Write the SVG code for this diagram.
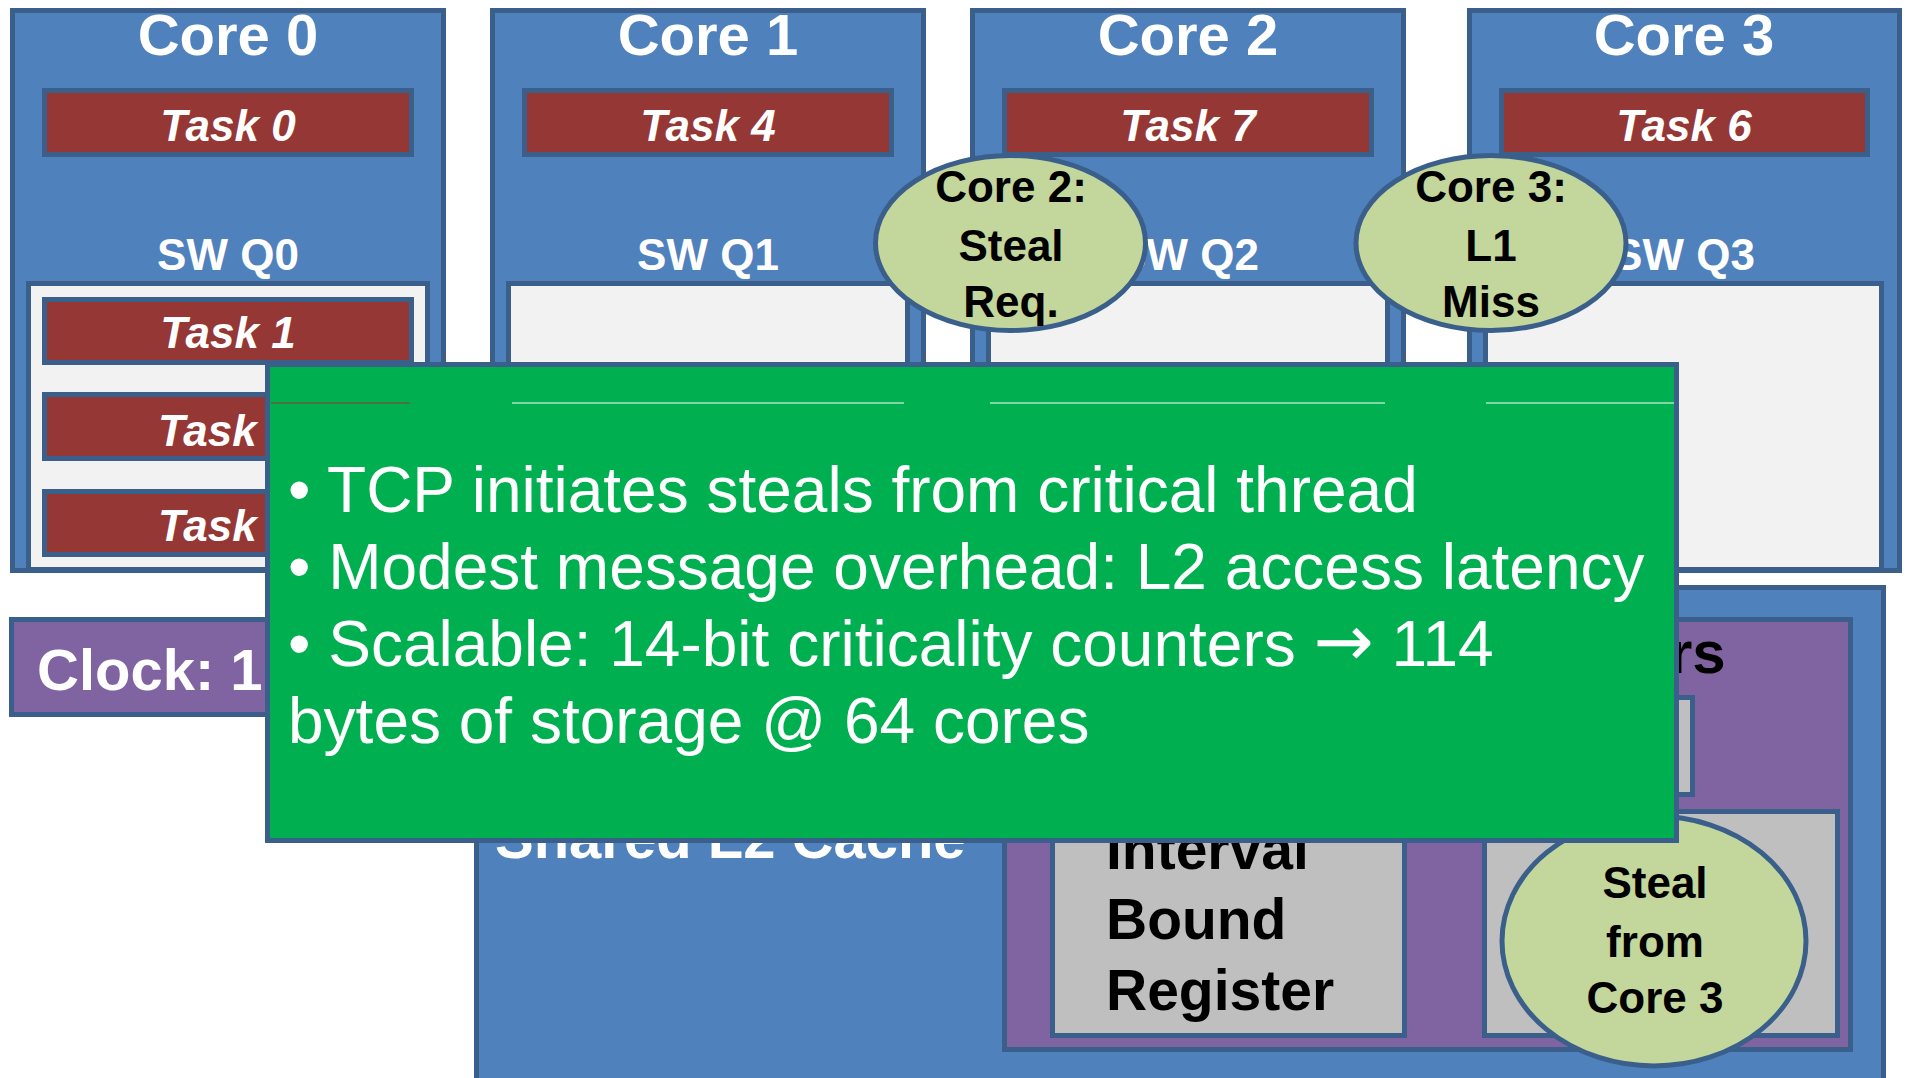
<svg xmlns="http://www.w3.org/2000/svg" width="1907" height="1078" viewBox="0 0 1907 1078">
  <style>
    .bd { stroke: #3A5F8B; stroke-width: 5; }
    .blue { fill: #4F81BD; }
    .task { fill: #953735; }
    .queue { fill: #F2F2F2; }
    .purple { fill: #8064A2; }
    .gray { fill: #BFBFBF; }
    .bubble { fill: #C3D69B; }
    .green { fill: #00B050; }
    text { font-family: "Liberation Sans", Arial, sans-serif; }
    .title { font-size: 58px; font-weight: bold; fill: #FFFFFF; text-anchor: middle; }
    .tk { font-size: 44px; font-weight: bold; font-style: italic; fill: #FFFFFF; text-anchor: middle; }
    .tks { font-size: 44px; font-weight: bold; font-style: italic; fill: #FFFFFF; }
    .swq { font-size: 44px; font-weight: bold; fill: #FFFFFF; text-anchor: middle; }
    .bub { font-size: 44px; font-weight: bold; fill: #000000; text-anchor: middle; }
    .blk { font-size: 57px; font-weight: bold; fill: #000000; }
    .big { font-size: 58px; font-weight: bold; fill: #FFFFFF; }
    .note { font-size: 64px; fill: #FFFFFF; }
    .arrow { font-family: "DejaVu Sans", sans-serif; font-size: 72px; }
    .artifact { stroke: #FFFFFF; stroke-width: 1; }
  </style>
  <rect x="0" y="0" width="1907" height="1078" fill="#FFFFFF"/>

  <g id="core0">
    <rect class="bd blue" x="12.5" y="10.5" width="431" height="560"/>
    <text class="title" x="228" y="55">Core 0</text>
    <rect class="bd task" x="44.5" y="90.5" width="367" height="64"/>
    <text class="tk" x="228" y="141">Task 0</text>
    <text class="swq" x="228" y="270">SW Q0</text>
    <rect class="bd queue" x="28.5" y="283.5" width="399" height="286"/>
    <rect class="bd task" x="44.5" y="299.5" width="367" height="63"/>
    <text class="tk" x="228" y="348">Task 1</text>
    <rect class="bd task" x="44.5" y="394.5" width="367" height="64"/>
    <text class="tks" x="158" y="446">Task</text>
    <rect class="bd task" x="44.5" y="491.5" width="367" height="63"/>
    <text class="tks" x="158" y="541">Task</text>
  </g>

  <g id="core1">
    <rect class="bd blue" x="492.5" y="10.5" width="431" height="560"/>
    <text class="title" x="708" y="55">Core 1</text>
    <rect class="bd task" x="524.5" y="90.5" width="367" height="64"/>
    <text class="tk" x="708" y="141">Task 4</text>
    <text class="swq" x="708" y="270">SW Q1</text>
    <rect class="bd queue" x="508.5" y="283.5" width="399" height="286"/>
  </g>

  <g id="core2">
    <rect class="bd blue" x="972.5" y="10.5" width="431" height="560"/>
    <text class="title" x="1188" y="55">Core 2</text>
    <rect class="bd task" x="1004.5" y="90.5" width="367" height="64"/>
    <text class="tk" x="1188" y="141">Task 7</text>
    <text class="swq" x="1188" y="270">SW Q2</text>
    <rect class="bd queue" x="988.5" y="283.5" width="399" height="286"/>
  </g>

  <g id="core3">
    <rect class="bd blue" x="1469.5" y="10.5" width="430" height="560"/>
    <text class="title" x="1684" y="55">Core 3</text>
    <rect class="bd task" x="1501.5" y="90.5" width="366" height="64"/>
    <text class="tk" x="1684" y="141">Task 6</text>
    <text class="swq" x="1684" y="270">SW Q3</text>
    <rect class="bd queue" x="1485.5" y="283.5" width="396" height="286"/>
  </g>

  <g id="clock">
    <rect class="bd purple" x="11.5" y="619.5" width="300" height="95"/>
    <text class="big" x="37" y="690">Clock: 1</text>
  </g>

  <g id="l2cache">
    <rect class="bd blue" x="476.5" y="587.5" width="1407" height="520"/>
    <text class="big" x="495" y="858">Shared L2 Cache</text>
  </g>

  <g id="tcp">
    <rect class="bd purple" x="1004.5" y="619.5" width="846" height="430"/>
    <text class="blk" x="1669" y="673" style="font-size:60px">rs</text>
    <rect class="bd gray" x="1052.5" y="697.5" width="640" height="97"/>
  </g>

  <g id="interval-bound-register">
    <rect class="bd gray" x="1052.5" y="811.5" width="352" height="224"/>
    <text class="blk" x="1106" y="869">Interval</text>
    <text class="blk" x="1106" y="939">Bound</text>
    <text class="blk" x="1106" y="1010">Register</text>
  </g>

  <g id="steal-slot">
    <rect class="bd gray" x="1484.5" y="811.5" width="353" height="224"/>
  </g>

  <g id="steal-from-core3">
    <ellipse class="bd bubble" cx="1654" cy="941" rx="152" ry="125"/>
    <text class="bub" x="1655" y="898">Steal</text>
    <text class="bub" x="1655" y="957">from</text>
    <text class="bub" x="1655" y="1013">Core 3</text>
  </g>

  <g id="core2-steal-req">
    <ellipse class="bd bubble" cx="1010.5" cy="243" rx="135" ry="87.5"/>
    <text class="bub" x="1011" y="202">Core 2:</text>
    <text class="bub" x="1011" y="261">Steal</text>
    <text class="bub" x="1011" y="317">Req.</text>
  </g>

  <g id="core3-l1-miss">
    <ellipse class="bd bubble" cx="1491" cy="243" rx="135" ry="87.5"/>
    <text class="bub" x="1491" y="202">Core 3:</text>
    <text class="bub" x="1491" y="261">L1</text>
    <text class="bub" x="1491" y="317">Miss</text>
  </g>

  <g id="connectors"></g>

  <g id="note">
    <rect class="bd green" x="267.5" y="364.5" width="1409" height="476"/>
    <line x1="271" y1="403" x2="410" y2="403" stroke="#953735" stroke-width="1"/>
    <line class="artifact" x1="512" y1="403" x2="904" y2="403"/>
    <line class="artifact" x1="990" y1="403" x2="1385" y2="403"/>
    <line class="artifact" x1="1486" y1="403" x2="1674" y2="403"/>
    <text class="note" x="288" y="512">• TCP initiates steals from critical thread</text>
    <text class="note" x="288" y="589">• Modest message overhead: L2 access latency</text>
    <text class="note" x="288" y="666">• Scalable: 14-bit criticality counters <tspan class="arrow">→</tspan> 114</text>
    <text class="note" x="288" y="743">bytes of storage @ 64 cores</text>
  </g>
</svg>
